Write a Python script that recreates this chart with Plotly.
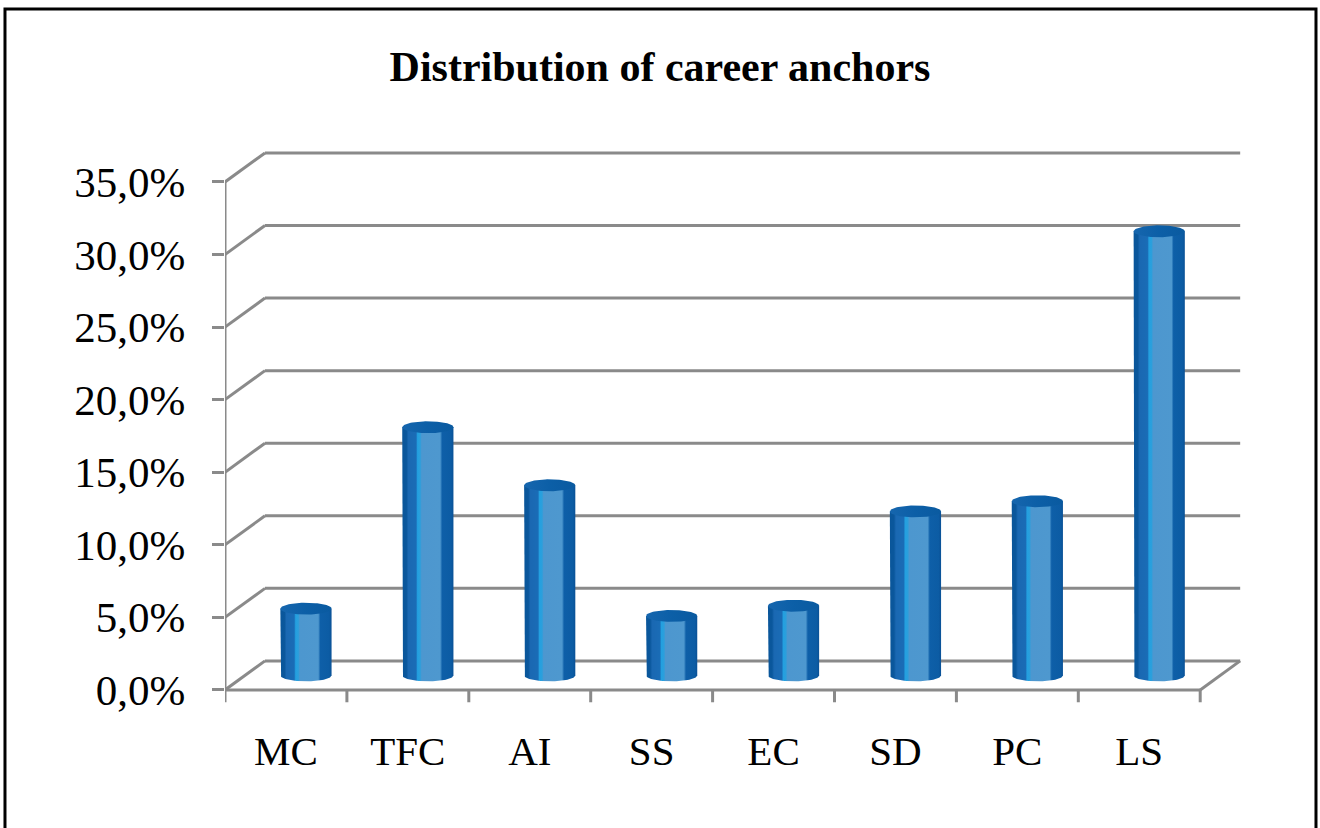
import numpy as np
import plotly.graph_objects as go

# ---- data ----
categories = ["MC", "TFC", "AI", "SS", "EC", "SD", "PC", "LS"]
values = [4.6, 17.1, 13.1, 4.1, 4.8, 11.3, 12.0, 30.6]   # percent
tick_values = [0, 5, 10, 15, 20, 25, 30, 35]
tick_labels = [f"{t:.1f}%".replace(".", ",") for t in tick_values]
title_text = "Distribution of career anchors"

# ---- pseudo-3D geometry (in axis units) ----
DX = 0.328      # depth offset along x (back wall)
DY = 2.0        # depth offset along y (back wall)
R = 0.21        # cylinder radius (x units)
RY = 0.41       # ellipse half-height (y units)
GRID = "#8a8a8a"
FONT = "Liberation Serif"

n = len(categories)
x_left = -0.5
x_right = n - 0.5

fig = go.Figure()

body_scale = [
    [0.00, "#0a569a"], [0.08, "#0a579c"],
    [0.12, "#1a68b2"], [0.27, "#1a6cb6"],
    [0.30, "#23a0e0"], [0.35, "#2b9fdc"],
    [0.38, "#4d97cf"], [0.74, "#4e98cf"],
    [0.78, "#0e5fa8"], [0.95, "#0c5ca4"],
    [1.00, "#0a5196"],
]
top_scale = [[0.0, "#1666ae"], [0.5, "#0c5fa7"], [1.0, "#0a5aa0"]]

t_front = np.linspace(np.pi, 2 * np.pi, 40)
t_full = np.linspace(0, 2 * np.pi, 80)

for i, (cat, v) in enumerate(zip(categories, values)):
    xc = i + DX / 2
    base = DY / 2
    top = base + v
    bx = np.concatenate([[xc - R], xc + R * np.cos(t_front), [xc + R, xc - R]])
    by = np.concatenate([[top], base + RY * np.sin(t_front), [top, top]])
    fig.add_trace(go.Scatter(
        x=bx, y=by, mode="lines", fill="toself",
        line=dict(width=0, color="#0a579c"),
        fillgradient=dict(type="horizontal", colorscale=body_scale),
        hoverinfo="skip", showlegend=False,
    ))
    fig.add_trace(go.Scatter(
        x=xc + R * np.cos(t_full), y=top + RY * np.sin(t_full),
        mode="lines", fill="toself",
        line=dict(width=0, color="#0c5fa7"),
        fillgradient=dict(type="horizontal", colorscale=top_scale),
        hovertemplate=f"{cat}: {v:.1f}%<extra></extra>".replace(".", ","),
        showlegend=False,
    ))

shapes = []
for tv in tick_values:
    shapes.append(dict(type="line", xref="x", yref="y", layer="below",
                       x0=x_left, y0=tv, x1=x_left + DX, y1=tv + DY,
                       line=dict(color=GRID, width=3)))
    shapes.append(dict(type="line", xref="x", yref="y", layer="below",
                       x0=x_left + DX, y0=tv + DY, x1=x_right + DX, y1=tv + DY,
                       line=dict(color=GRID, width=3)))
shapes.append(dict(type="line", xref="x", yref="y", layer="below",
                   x0=x_left, y0=0, x1=x_right, y1=0,
                   line=dict(color=GRID, width=3)))
shapes.append(dict(type="line", xref="x", yref="y", layer="below",
                   x0=x_right, y0=0, x1=x_right + DX, y1=DY,
                   line=dict(color=GRID, width=3)))
shapes.append(dict(type="line", xref="x", yref="y", layer="below",
                   x0=x_left, y0=0, x1=x_left, y1=tick_values[-1],
                   line=dict(color=GRID, width=3)))
for b in np.arange(x_left, x_right + 0.01, 1.0):
    shapes.append(dict(type="line", xref="x", yref="y", layer="below",
                       x0=b, y0=0, x1=b, y1=-0.85,
                       line=dict(color=GRID, width=3)))
# outer frame
shapes.append(dict(type="rect", xref="paper", yref="paper",
                   x0=-0.2157, x1=1.0696, y0=-0.25, y1=1.2327,
                   line=dict(color="black", width=3), layer="above"))

fig.update_layout(
    width=1320, height=828,
    margin=dict(l=225, r=75, t=140, b=125),
    paper_bgcolor="white", plot_bgcolor="white",
    shapes=shapes,
    title=dict(text=f"<b>{title_text}</b>", x=0.5, xanchor="center",
               y=1 - 66 / 828, yanchor="middle", yref="container",
               font=dict(family=FONT, size=42, color="black")),
    xaxis=dict(range=[x_left, -0.5 + 1020 / 121.9], showgrid=False,
               zeroline=False, showline=False,
               tickmode="array", tickvals=list(range(n)), ticktext=categories,
               ticks="", ticklabelstandoff=20,
               tickfont=dict(family=FONT, size=41, color="black")),
    yaxis=dict(range=[-0.9, 37.89], showgrid=False, zeroline=False,
               showline=False,
               tickmode="array", tickvals=tick_values, ticktext=tick_labels,
               ticks="outside", ticklen=12, tickwidth=3, tickcolor=GRID,
               ticklabelstandoff=18,
               tickfont=dict(family=FONT, size=43, color="black")),
)

fig.write_html("out.html", config={"displayModeBar": False},
               post_script="document.body.style.margin='0px';")
